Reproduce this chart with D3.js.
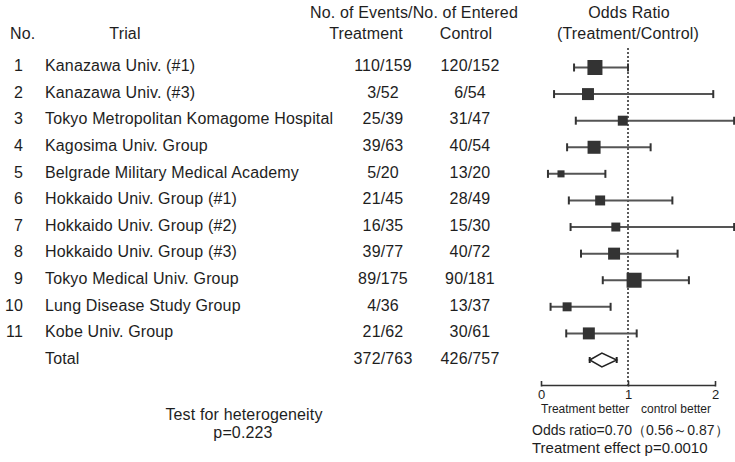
<!DOCTYPE html>
<html>
<head>
<meta charset="utf-8">
<script src="https://cdn.jsdelivr.net/npm/d3@7"></script>
<style>
  html, body { margin: 0; padding: 0; background: #fff; }
  svg { display: block; }
  text { font-family: "Liberation Sans", Arial, Helvetica, sans-serif; fill: #1e1e1e; }
  .main { letter-spacing: 0.15px; }
</style>
</head>
<body>
<svg id="chart" width="735" height="462"></svg>
<script>
// ---------------- data ----------------
const trialNo = [1, 2, 3, 4, 5, 6, 7, 8, 9, 10, 11];
const trials = [
  "Kanazawa Univ. (#1)",
  "Kanazawa Univ. (#3)",
  "Tokyo Metropolitan Komagome Hospital",
  "Kagosima Univ. Group",
  "Belgrade Military Medical Academy",
  "Hokkaido Univ. Group (#1)",
  "Hokkaido Univ. Group (#2)",
  "Hokkaido Univ. Group (#3)",
  "Tokyo Medical Univ. Group",
  "Lung Disease Study Group",
  "Kobe Univ. Group"
];
const treatEvents  = [110, 3, 25, 39, 5, 21, 16, 39, 89, 4, 21];
const treatEntered = [159, 52, 39, 63, 20, 45, 35, 77, 175, 36, 62];
const ctrlEvents   = [120, 6, 31, 40, 13, 28, 15, 40, 90, 13, 30];
const ctrlEntered  = [152, 54, 47, 54, 20, 49, 30, 72, 181, 37, 61];
// odds ratios and 95% CI
const oddsRatio = [0.62, 0.54, 0.94, 0.61, 0.23, 0.68, 0.86, 0.84, 1.07, 0.30, 0.55];
const ciLow     = [0.38, 0.15, 0.40, 0.30, 0.08, 0.32, 0.34, 0.46, 0.71, 0.11, 0.29];
const ciHigh    = [1.00, 1.98, 2.22, 1.26, 0.74, 1.51, 2.22, 1.57, 1.70, 0.80, 1.10];
const weights   = [15.4, 9.8, 6.8, 11.6, 3.4, 6.8, 5.5, 9.8, 15.4, 5.5, 9.8];
const totalLabel = "Total";
const totalTreat = [372, 763];
const totalCtrl  = [426, 757];
const pooledOR = 0.70, pooledLow = 0.56, pooledHigh = 0.87;
const axisTicks = [0, 1, 2];
const heterogeneityP = "0.223";
const effectP = "0.0010";

// ---------------- layout ----------------
const svg = d3.select("#chart");
const x = d3.scaleLinear().domain([0, 2]).range([541, 715]);
const y = d3.scaleLinear().domain([0, 11]).range([67.5, 360]);
const box = d3.scaleSqrt().domain([0, d3.max(weights)]).range([0, 15]);
const fs = 16;

function label(g, tx, ty, str, anchor, size) {
  return g.append("text").attr("class", "main").attr("x", tx).attr("y", ty)
    .attr("font-size", size || fs).attr("text-anchor", anchor || "start").text(str);
}

// headers
label(svg, 10, 39, "No.");
label(svg, 125, 39, "Trial", "middle");
label(svg, 414, 18, "No. of Events/No. of Entered", "middle");
label(svg, 366, 39, "Treatment", "middle");
label(svg, 466, 39, "Control", "middle");
label(svg, 629, 18, "Odds Ratio", "middle");
label(svg, 628, 39, "(Treatment/Control)", "middle");

// rows
const rows = svg.append("g");
trials.forEach((t, i) => {
  const by = y(i) + 3.8;
  label(rows, 23, by, trialNo[i], "end");
  label(rows, 45, by, t);
  label(rows, 383, by, treatEvents[i] + "/" + treatEntered[i], "middle");
  label(rows, 470, by, ctrlEvents[i] + "/" + ctrlEntered[i], "middle");
});
const ty = y(11) + 3.8;
label(rows, 45, ty, totalLabel);
label(rows, 383, ty, totalTreat[0] + "/" + totalTreat[1], "middle");
label(rows, 470, ty, totalCtrl[0] + "/" + totalCtrl[1], "middle");

// reference dotted line at OR = 1
svg.append("line")
  .attr("x1", x(1)).attr("x2", x(1))
  .attr("y1", 48).attr("y2", 385)
  .attr("stroke", "#333").attr("stroke-width", 1.6)
  .attr("stroke-dasharray", "2,2");

// CIs
const ci = svg.append("g");
oddsRatio.forEach((o, i) => {
  const cy = y(i);
  ci.append("line").attr("x1", x(ciLow[i])).attr("x2", x(ciHigh[i]))
    .attr("y1", cy).attr("y2", cy).attr("stroke", "#555").attr("stroke-width", 2);
  [ciLow[i], ciHigh[i]].forEach(v => {
    ci.append("line").attr("x1", x(v)).attr("x2", x(v))
      .attr("y1", cy - 4).attr("y2", cy + 4).attr("stroke", "#333").attr("stroke-width", 2);
  });
  const s = box(weights[i]);
  ci.append("rect").attr("x", x(o) - s / 2).attr("y", cy - s / 2)
    .attr("width", s).attr("height", s).attr("fill", "#333");
});

// pooled diamond
const dy = y(11);
svg.append("path")
  .attr("d", `M${x(pooledLow)},${dy} L${x(pooledOR)},${dy - 7} L${x(pooledHigh)},${dy} L${x(pooledOR)},${dy + 7} Z`)
  .attr("fill", "#fff").attr("stroke", "#222").attr("stroke-width", 1.5);
[pooledLow, pooledHigh].forEach(v => {
  svg.append("line").attr("x1", x(v)).attr("x2", x(v)).attr("y1", dy - 3).attr("y2", dy + 3)
    .attr("stroke", "#222").attr("stroke-width", 2);
});

// axis
const axis = d3.axisBottom(x).tickValues(axisTicks).tickSize(0).tickFormat(d3.format("d"));
const ag = svg.append("g").attr("transform", "translate(0,385)").call(axis);
ag.select(".domain").attr("stroke", "#333").attr("stroke-width", 1.6);
ag.selectAll(".tick text").attr("font-size", 13).attr("dy", 0).attr("y", 14)
  .attr("font-family", "Liberation Sans, Arial, sans-serif").attr("fill", "#222");
ag.selectAll(".tick").append("line").attr("y1", -4).attr("y2", 1.5)
  .attr("stroke", "#333").attr("stroke-width", 1.6);

svg.append("text").attr("x", 541).attr("y", 413).attr("font-size", 12).text("Treatment better");
svg.append("text").attr("x", 711).attr("y", 413).attr("font-size", 12).attr("text-anchor", "end").text("control better");

svg.append("text").attr("x", 532).attr("y", 435).attr("font-size", 14)
  .text("Odds ratio=" + pooledOR.toFixed(2) + "（" + pooledLow.toFixed(2) + "～" + pooledHigh.toFixed(2) + "）");
svg.append("text").attr("x", 532).attr("y", 453).attr("font-size", 15).text("Treatment effect p=" + effectP);

label(svg, 244, 420, "Test for heterogeneity", "middle");
label(svg, 243, 438, "p=" + heterogeneityP, "middle");
</script>
</body>
</html>
